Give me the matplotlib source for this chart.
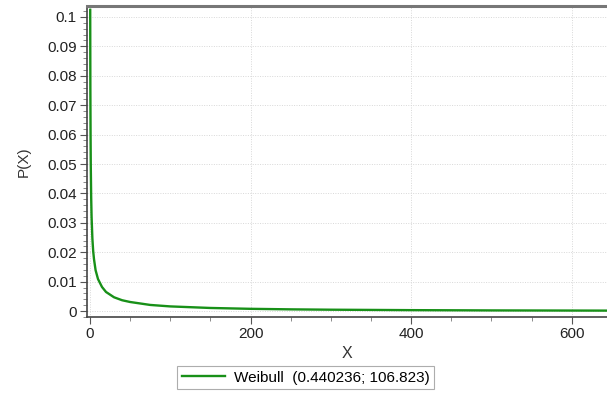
import matplotlib
matplotlib.use("Agg")
import matplotlib.pyplot as plt
from matplotlib.ticker import MultipleLocator, FixedLocator

plt.rcParams['font.family'] = ['Liberation Sans', 'DejaVu Sans']

# Values
x_vals = [0.3, 0.5, 0.75, 1, 1.5, 2, 3, 4, 5, 7, 10, 15, 20, 30, 40, 50, 75,
          100, 150, 200, 250, 300, 400, 500, 645]
p_vals = [0.1024, 0.0757, 0.060, 0.0496, 0.0387, 0.0321, 0.0247, 0.0204, 0.0177,
          0.0139, 0.0109, 0.0082, 0.0065, 0.0047, 0.0037, 0.0031, 0.0021,
          0.0016, 0.00107, 0.00078, 0.00060, 0.00048, 0.00033, 0.00024, 0.00017]
series_label = "Weibull  (0.440236; 106.823)"
y_ticks = [0, 0.01, 0.02, 0.03, 0.04, 0.05, 0.06, 0.07, 0.08, 0.09, 0.1]
y_tick_labels = ["0", "0.01", "0.02", "0.03", "0.04", "0.05", "0.06", "0.07", "0.08", "0.09", "0.1"]
x_ticks = [0, 200, 400, 600]
x_tick_labels = ["0", "200", "400", "600"]

fig = plt.figure(figsize=(6.07, 3.93), dpi=100)
ax = fig.add_axes([87/607, 1-317/393, 1-87/607, (317-6)/393])

ax.plot(x_vals, p_vals, color="#189018", lw=1.7, label=series_label,
        solid_joinstyle='round', clip_on=True)

ax.set_xlim(-3.7, 644)
ax.set_ylim(-0.002, 0.1037)

ax.yaxis.set_major_locator(FixedLocator(y_ticks))
ax.set_yticklabels(y_tick_labels)
ax.yaxis.set_minor_locator(MultipleLocator(0.002))
ax.xaxis.set_major_locator(FixedLocator(x_ticks))
ax.set_xticklabels(x_tick_labels)
ax.xaxis.set_minor_locator(MultipleLocator(50))

ax.tick_params(axis='both', which='major', length=5, width=0.8, color="#555555",
               labelsize=11, labelcolor="#222222", pad=2.5)
ax.tick_params(axis='both', which='minor', length=3, width=0.6, color="#777777")

ax.grid(True, which='major', color="#d8d8d8", linestyle=(0, (1, 1.5)), lw=0.7)
ax.set_axisbelow(True)

for s in ['left', 'bottom']:
    ax.spines[s].set_color("#444444")
    ax.spines[s].set_linewidth(1.2)
ax.spines['top'].set_color("#777777")
ax.spines['top'].set_linewidth(2.2)
ax.spines['right'].set_visible(False)

ax.set_ylabel("P(X)", fontsize=11, color="#333333", labelpad=12)
ax.set_xlabel("X", fontsize=11.5, color="#333333", labelpad=3)

leg = fig.legend(loc='lower center', bbox_to_anchor=(0.504, 0.0), fontsize=11,
                 frameon=True, fancybox=False, edgecolor="#999999",
                 handlelength=2.8, borderpad=0.3, handletextpad=0.6,
                 borderaxespad=0.25)
leg.get_frame().set_linewidth(0.8)

fig.savefig("out.png", dpi=100)
